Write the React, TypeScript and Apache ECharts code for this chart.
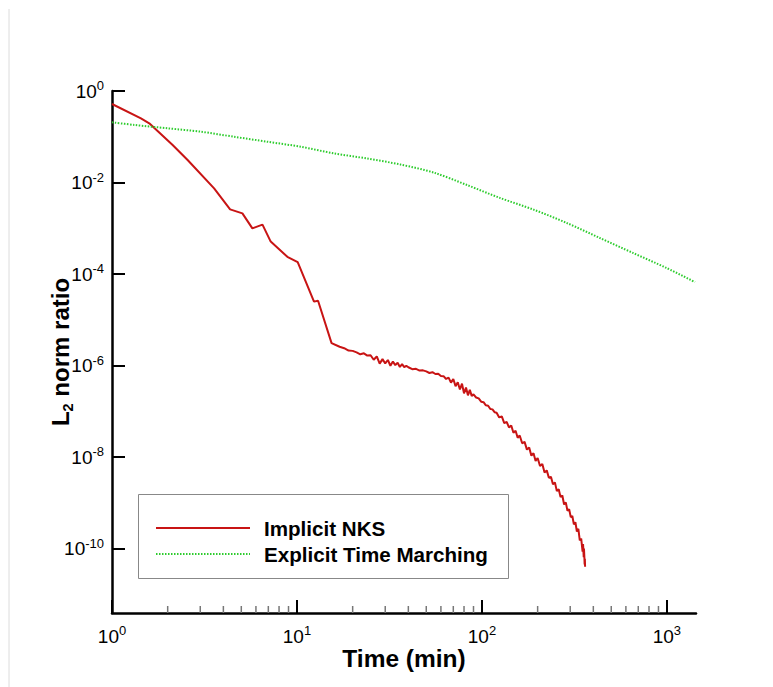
import React, { useEffect, useRef } from 'react';
import * as echarts from 'echarts';

// ---- axis extents and ticks ----
const X_MIN = 1;
const X_MAX = 1436;
const Y_MIN = 3.9e-12;
const Y_MAX = 1;
const xMajorTicks = [1, 10, 100, 1000];
const xMinorTicks = [2, 3, 4, 5, 6, 7, 8, 9, 20, 30, 40, 50, 60, 70, 80, 90, 200, 300, 400, 500, 600, 700, 800, 900];
const yMajorTicks = [1, 1e-2, 1e-4, 1e-6, 1e-8, 1e-10];

// ---- series: Implicit NKS ----
const nksTime = [
  1, 1.434, 1.59, 2.127, 2.563, 3.565, 4.35, 5.07, 5.74, 6.51, 7.21, 8.87, 10.09, 12.36, 13.0, 15.38,
  17, 18, 19, 20, 21, 22, 23, 24, 25, 26, 27, 28, 29, 30, 31, 32, 33, 34, 35, 36, 37, 38, 39, 40,
  42, 44, 46, 48, 50, 52, 54, 56, 58, 60, 62, 64, 66, 68, 70, 72, 74, 76, 78, 80, 82, 84, 86, 88, 90,
  93, 96, 99, 102, 105, 108, 111, 114, 117, 120, 124, 128, 132, 136, 140, 144, 148, 152, 156, 160,
  165, 170, 175, 180, 185, 190, 195, 200, 206, 212, 218, 224, 230, 236, 242, 248, 254, 260, 266, 272,
  278, 284, 290, 296, 302, 308, 314, 320, 326, 332, 338, 344, 350, 352, 355, 356, 358, 359, 360, 361,
];
const nksL2 = [
  0.52, 0.253, 0.197, 0.066, 0.031, 0.00745, 0.00259, 0.00212, 0.000995, 0.0012, 0.000512, 0.000238, 0.000182, 2.49e-5, 2.6e-5, 3.08e-6,
  2.57e-6, 2.39e-6, 2.12e-6, 2.09e-6, 1.94e-6, 1.76e-6, 1.85e-6, 1.65e-6, 1.68e-6, 1.34e-6, 1.58e-6, 1.10e-6, 1.38e-6, 1.11e-6, 1.32e-6, 9.9e-7, 1.22e-6, 1.02e-6, 1.15e-6, 9.3e-7, 1.07e-6, 9.25e-7, 9.86e-7, 9.16e-7,
  8.3e-7, 8.45e-7, 7.76e-7, 7.85e-7, 7.43e-7, 6.87e-7, 7.14e-7, 6.53e-7, 6.62e-7, 5.87e-7, 5.85e-7, 5.08e-7, 5.43e-7, 4.23e-7, 5.09e-7, 3.54e-7, 4.29e-7, 2.99e-7, 4.01e-7, 2.46e-7, 3.30e-7, 2.23e-7, 2.93e-7, 2.17e-7, 2.34e-7,
  2.0e-7, 1.91e-7, 1.62e-7, 1.58e-7, 1.35e-7, 1.32e-7, 1.12e-7, 1.10e-7, 9.55e-8, 9.33e-8, 7.33e-8, 7.73e-8, 5.53e-8, 5.87e-8, 4.45e-8, 4.88e-8, 3.39e-8, 3.74e-8, 2.64e-8, 2.96e-8,
  2.0e-8, 2.14e-8, 1.45e-8, 1.62e-8, 1.07e-8, 1.21e-8, 8.22e-9, 9.55e-9, 6.38e-9, 7.05e-9, 4.59e-9, 5.11e-9, 3.52e-9, 3.70e-9, 2.55e-9, 2.79e-9, 1.80e-9, 1.98e-9, 1.33e-9, 1.44e-9,
  9.18e-10, 1.02e-9, 6.65e-10, 7.26e-10, 4.88e-10, 5.14e-10, 3.37e-10, 3.75e-10, 2.36e-10, 2.70e-10, 1.51e-10, 1.64e-10, 8.57e-11, 1.26e-10, 6.5e-11, 1.0e-10, 6.3e-11, 4.5e-11, 6.0e-11, 3.98e-11,
];

// ---- series: Explicit Time Marching ----
const explicitTime = [1, 1.32, 2.0, 3.02, 4.57, 6.92, 10.47, 15.8, 24.0, 36.3, 54.8, 83.1, 125.7, 190, 288, 435, 659, 997, 1418];
const explicitL2 = [0.207, 0.181, 0.153, 0.129, 0.1, 0.0778, 0.0605, 0.0434, 0.0334, 0.0247, 0.0165, 0.0088, 0.00457, 0.00256, 0.0013, 0.00061, 0.000286, 0.000135, 6.66e-5];

const seriesNames = ['Implicit NKS', 'Explicit Time Marching'];

const FONT = '"Liberation Sans", Arial, Helvetica, sans-serif';
const RED = '#c81414';
const GREEN = '#2ecc2e';

export default function App() {
  const ref = useRef<HTMLDivElement>(null);
  useEffect(() => {
    const el = ref.current;
    if (!el) return;
    const chart = echarts.init(el, undefined, { renderer: 'svg' });
    const supLabel = (v: number) => `{base|10}{sup|${Math.round(Math.log10(v))}}`;
    const labelRich = {
      base: { fontSize: 19, fontFamily: FONT, color: '#000', lineHeight: 24 },
      sup: { fontSize: 13, fontFamily: FONT, color: '#000', lineHeight: 13, verticalAlign: 'top' },
    };
    const option: any = {
      animation: false,
      backgroundColor: '#fff',
      grid: { left: 112, right: 77, top: 91, bottom: 74, containLabel: false, outerBoundsMode: 'none' },
      legend: {
        data: seriesNames,
        orient: 'vertical',
        left: 155,
        top: 517,
        padding: 0,
        itemWidth: 94,
        itemHeight: 14,
        itemGap: 4,
        selectedMode: false,
        itemStyle: { color: 'rgba(0,0,0,0)', opacity: 0, borderWidth: 0 },
        textStyle: { fontSize: 20.6, fontWeight: 'bold', fontFamily: FONT, color: '#000', lineHeight: 22, padding: [0, 0, 0, 9] },
      },
      xAxis: {
        type: 'log',
        logBase: 10,
        min: X_MIN,
        max: X_MAX,
        axisLine: { show: true, lineStyle: { color: '#000', width: 2.5 } },
        axisTick: { show: true, inside: true, length: 13, lineStyle: { color: '#000', width: 2 }, customValues: xMajorTicks },
        axisLabel: {
          customValues: xMajorTicks, formatter: supLabel, margin: 11, rich: labelRich,
          color: '#000', fontSize: 19, fontFamily: FONT, hideOverlap: false,
        },
        splitLine: { show: false },
        minorTick: { show: false },
        name: 'Time (min)',
        nameLocation: 'middle',
        nameGap: 33,
        nameMoveOverlap: false,
        nameTextStyle: { fontSize: 24.5, fontWeight: 'bold', fontFamily: FONT, color: '#000' },
      },
      yAxis: {
        type: 'log',
        logBase: 10,
        min: Y_MIN,
        max: Y_MAX,
        axisLine: { show: true, lineStyle: { color: '#000', width: 2.5 } },
        axisTick: { show: true, inside: true, length: 13, lineStyle: { color: '#000', width: 2 }, customValues: yMajorTicks },
        axisLabel: {
          customValues: yMajorTicks, formatter: supLabel, margin: 8, rich: labelRich,
          color: '#000', fontSize: 19, fontFamily: FONT, hideOverlap: false,
        },
        splitLine: { show: false },
        name: '{a|L}{b|2}{a| norm ratio}',
        nameLocation: 'middle',
        nameGap: 37,
        nameMoveOverlap: false,
        nameTextStyle: {
          rich: {
            a: { fontSize: 24, fontWeight: 'bold', fontFamily: FONT, color: '#000', lineHeight: 29 },
            b: { fontSize: 14.5, fontWeight: 'bold', fontFamily: FONT, color: '#000', lineHeight: 16, verticalAlign: 'bottom' },
          },
        },
      },
      series: [
        {
          name: seriesNames[0],
          type: 'line',
          data: nksTime.map((t, i) => [t, nksL2[i]]),
          symbol: 'none',
          showSymbol: false,
          lineStyle: { color: RED, width: 2 },
          itemStyle: { color: RED },
          z: 3,
        },
        {
          name: seriesNames[1],
          type: 'line',
          data: explicitTime.map((t, i) => [t, explicitL2[i]]),
          symbol: 'none',
          showSymbol: false,
          smooth: 0.3,
          lineStyle: { color: GREEN, width: 2, type: [1.5, 1.5] },
          itemStyle: { color: GREEN },
          z: 4,
        },
        {
          name: 'minor ticks',
          type: 'custom',
          silent: true,
          clip: false,
          data: xMinorTicks.map((v) => [v, Y_MIN]),
          renderItem: (params: any, api: any) => {
            const p = api.coord([api.value(0), api.value(1)]);
            return {
              type: 'line',
              shape: { x1: p[0], y1: p[1], x2: p[0], y2: p[1] - 7 },
              style: { stroke: '#777', lineWidth: 1.5 },
            };
          },
          z: 5,
        },
      ],
      graphic: [
        {
          type: 'line',
          shape: { x1: 9, y1: 9, x2: 9, y2: 687 },
          style: { stroke: '#dcdcdc', lineWidth: 1 },
          silent: true,
        },
        {
          type: 'rect',
          shape: { x: 138.5, y: 494.5, width: 370, height: 84 },
          style: { fill: 'none', stroke: '#888', lineWidth: 1 },
          silent: true,
          z: 1,
        },
      ],
    };
    chart.setOption(option);
    return () => chart.dispose();
  }, []);
  return <div ref={ref} style={{ position: 'fixed', left: 0, top: 0, width: 773, height: 687 }} />;
}
